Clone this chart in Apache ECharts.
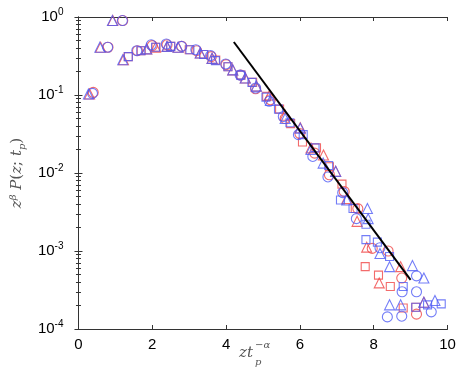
<!DOCTYPE html>
<html>
<head>
<meta charset="utf-8">
<script src="https://cdn.jsdelivr.net/npm/echarts@6/dist/echarts.min.js"></script>
<style>
  html, body { margin: 0; padding: 0; background: #fff; }
  #main { width: 460px; height: 372px; }
</style>
</head>
<body>
<div id="main"></div>
<script>
// data: [x, y]
const blueCircles = [[0.38,0.105],[0.79,0.41],[1.19,0.9],[1.58,0.37],[1.97,0.44],[2.38,0.45],[2.79,0.42],[3.18,0.38],[3.58,0.32],[3.99,0.25],[4.38,0.18],[4.8,0.123],[5.17,0.083],[5.55,0.053],[5.96,0.031],[6.35,0.0163],[6.76,0.0089],[7.16,0.0056],[7.53,0.0026],[8.17,0.0011],[8.37,0.000143],[8.77,0.0003],[8.76,0.000146],[9.16,0.00048],[9.16,0.0003],[9.56,0.000166]];
const blueSquares = [[1.35,0.31],[1.69,0.37],[2.09,0.41],[2.5,0.42],[3.02,0.38],[3.39,0.33],[3.71,0.276],[4.05,0.23],[4.4,0.18],[4.7,0.145],[5.08,0.094],[5.42,0.066],[5.73,0.044],[6.09,0.031],[6.41,0.021],[6.78,0.0125],[7.1,0.0045],[7.44,0.0035],[7.79,0.0022],[7.79,0.0014],[8.1,0.0013],[8.43,0.00085],[8.8,0.00035],[9.14,0.00019],[9.46,0.000204],[9.83,0.00021]];
const blueTriangles = [[0.27,0.103],[0.58,0.41],[0.92,0.9],[1.2,0.283],[1.85,0.39],[2.4,0.42],[2.7,0.41],[3.3,0.345],[3.62,0.295],[4.18,0.21],[4.52,0.165],[4.82,0.13],[5.2,0.085],[5.6,0.05],[6.01,0.0376],[6.3,0.02],[6.63,0.0134],[6.97,0.0105],[7.27,0.0045],[7.83,0.0035],[7.85,0.0026],[8.17,0.00093],[8.43,0.00063],[9.05,0.00065],[9.36,0.00045],[8.43,0.000204],[8.73,0.000204],[9.36,0.00022],[9.66,0.000232]];
const redCircles = [[0.4,0.108],[0.8,0.41],[1.2,0.9],[1.6,0.37],[2.0,0.43],[2.4,0.44],[2.8,0.42],[3.2,0.37],[3.6,0.31],[4.0,0.245],[4.4,0.18],[4.8,0.12],[5.2,0.087],[5.6,0.05],[6.0,0.032],[6.4,0.018],[6.8,0.0095],[7.2,0.0058],[7.57,0.0035],[7.96,0.00108],[8.39,0.001],[8.76,0.00045],[9.16,0.000155]];
const redSquares = [[1.35,0.31],[1.7,0.37],[2.1,0.41],[2.5,0.42],[3.0,0.38],[3.4,0.33],[3.72,0.28],[4.05,0.23],[4.4,0.18],[4.72,0.145],[5.1,0.096],[5.45,0.066],[5.75,0.043],[6.07,0.025],[6.45,0.021],[6.8,0.012],[7.14,0.0072],[7.5,0.0035],[7.77,0.00063],[8.13,0.00049],[8.45,0.00035],[8.8,0.000186],[9.14,0.00019]];
const redTriangles = [[0.3,0.103],[0.6,0.41],[0.93,0.9],[1.22,0.283],[1.85,0.39],[2.09,0.41],[2.4,0.42],[2.7,0.41],[3.3,0.345],[3.62,0.295],[4.18,0.21],[4.52,0.165],[4.82,0.13],[5.18,0.1],[5.6,0.055],[6.01,0.038],[6.3,0.021],[6.64,0.017],[6.97,0.0105],[7.27,0.0047],[7.55,0.0024],[7.81,0.00112],[8.15,0.00039],[8.73,0.00063],[9.36,0.00022]];
const fitLine = [[4.21,0.478],[9.0,0.000426]];

const RED = 'rgb(240,70,70)';
const BLUE = 'rgb(80,92,245)';
const AXIS = '#333';

const chart = echarts.init(document.getElementById('main'));

function scat(data, symbol, color, size) {
  return {
    type: 'scatter',
    data: data,
    symbol: symbol,
    symbolSize: size,
    itemStyle: { color: 'rgba(0,0,0,0)', borderColor: color, borderWidth: 1.1 },
    z: 2
  };
}

chart.setOption({
  animation: false,
  grid: { left: 59.5, right: 12.5, top: 17, bottom: 43 },
  xAxis: [
    {
      type: 'value', min: 0, max: 10, interval: 2,
      axisLine: { lineStyle: { color: AXIS, width: 1 } },
      axisTick: { inside: true, length: 4, lineStyle: { color: AXIS } },
      axisLabel: { color: '#000', fontSize: 15, margin: 8, fontFamily: 'Liberation Sans' },
      splitLine: { show: false }
    },
    {
      type: 'value', min: 0, max: 10, interval: 2, position: 'top',
      axisLine: { lineStyle: { color: AXIS, width: 1 } },
      axisTick: { inside: true, length: 4, lineStyle: { color: AXIS } },
      axisLabel: { show: false },
      splitLine: { show: false }
    }
  ],
  yAxis: [
    {
      type: 'log', min: 1e-4, max: 1, logBase: 10,
      axisLine: { show: true, lineStyle: { color: AXIS, width: 1 } },
      axisTick: { inside: true, length: 4, lineStyle: { color: AXIS } },
      minorTick: { show: true, splitNumber: 9, length: 2.5, lineStyle: { color: AXIS } },
      splitLine: { show: false },
      axisLabel: {
        margin: 15,
        formatter: function (v) {
          const e = Math.round(Math.log10(v));
          return '{b|10}{s|' + String(e) + '}';
        },
        rich: {
          b: { fontSize: 15, color: '#000', fontFamily: 'Liberation Sans' },
          s: { fontSize: 10, color: '#000', fontFamily: 'Liberation Sans', padding: [0, 0, 9, 0] }
        }
      },
      name: '{i|z}{sup|β}{i| P}{r|(}{i|z}{r|; }{i|t}{sub|p}{r|)}',
      nameLocation: 'middle', nameRotate: 90, nameGap: 36,
      nameTextStyle: {
        rich: {
          i: { fontFamily: 'DejaVu Serif', fontStyle: 'italic', fontSize: 15, color: '#555' },
          r: { fontFamily: 'DejaVu Serif', fontSize: 15, color: '#555' },
          sup: { fontFamily: 'DejaVu Serif', fontStyle: 'italic', fontSize: 10, color: '#555', padding: [0, 0, 9, 0] },
          sub: { fontFamily: 'DejaVu Serif', fontStyle: 'italic', fontSize: 10, color: '#555', padding: [6, 0, 0, 0], verticalAlign: 'bottom' }
        }
      }
    },
    {
      type: 'log', min: 1e-4, max: 1, logBase: 10, position: 'right',
      axisLine: { show: true, lineStyle: { color: AXIS, width: 1 } },
      axisTick: { inside: true, length: 4, lineStyle: { color: AXIS } },
      minorTick: { show: true, splitNumber: 9, length: 2.5, lineStyle: { color: AXIS } },
      splitLine: { show: false },
      axisLabel: { show: false }
    }
  ],
  graphic: [
    { type: 'text', left: 239, top: 346, style: { text: 'zt', fontFamily: 'DejaVu Serif', fontStyle: 'italic', fontSize: 15, fill: '#555' } },
    { type: 'text', left: 255, top: 357, style: { text: 'p', fontFamily: 'DejaVu Serif', fontStyle: 'italic', fontSize: 10, fill: '#555' } },
    { type: 'text', left: 255, top: 340, style: { text: '−α', fontFamily: 'DejaVu Serif', fontStyle: 'italic', fontSize: 10, fill: '#555' } }
  ],
  series: [
    scat(redCircles, 'circle', RED, 10),
    scat(redSquares, 'rect', RED, 8),
    scat(redTriangles, 'triangle', RED, 10),
    scat(blueCircles, 'circle', BLUE, 10),
    scat(blueSquares, 'rect', BLUE, 8),
    scat(blueTriangles, 'triangle', BLUE, 10),
    {
      type: 'line', data: fitLine, showSymbol: false,
      lineStyle: { color: '#000', width: 2 }, z: 3
    }
  ]
});
</script>
</body>
</html>
